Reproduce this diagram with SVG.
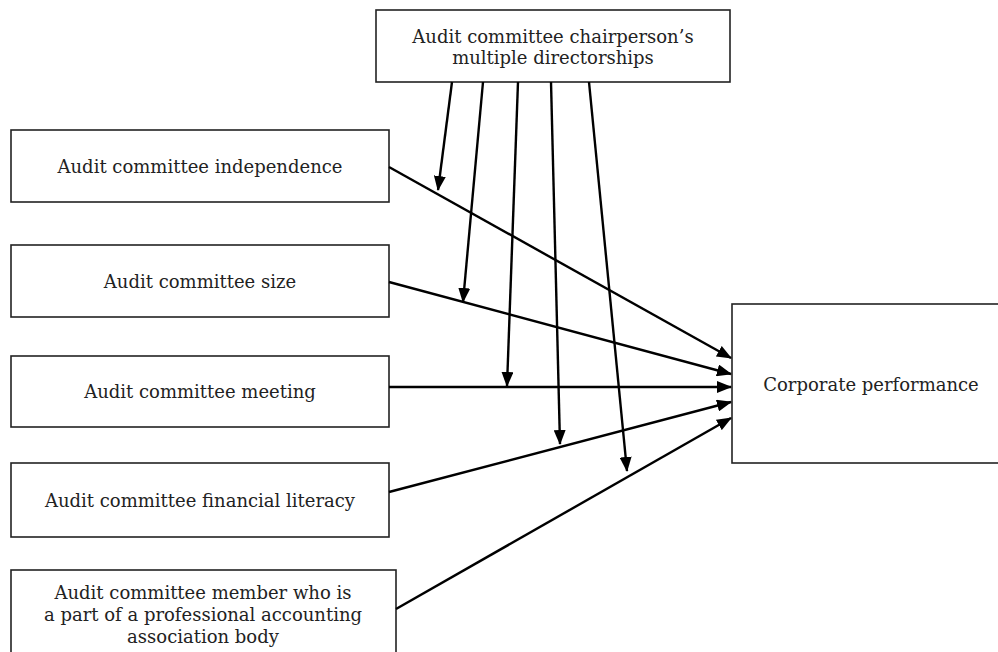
<svg xmlns="http://www.w3.org/2000/svg" width="998" height="652" viewBox="0 0 998 652">
<style>
.box{fill:#fff;stroke:#222;stroke-width:1.6}
.t{font-family:"DejaVu Serif",serif;font-size:18px;fill:#222;text-anchor:middle}
.c{stroke:#000;stroke-width:2.4;fill:none;marker-end:url(#ah)}
</style>
<defs>
<marker id="ah" markerUnits="userSpaceOnUse" markerWidth="15" markerHeight="12" refX="14" refY="6" orient="auto">
<path d="M0,0 L15,6 L0,12 z" fill="#000"/>
</marker>
</defs>
<rect width="998" height="652" fill="#fff"/>
<g id="n-chair"><rect class="box" x="376" y="10" width="354" height="72"/>
<text class="t" x="553" y="43">Audit committee chairperson’s</text>
<text class="t" x="553" y="64">multiple directorships</text></g>
<g id="n-indep"><rect class="box" x="11" y="130" width="378" height="72"/>
<text class="t" x="200" y="173">Audit committee independence</text></g>
<g id="n-size"><rect class="box" x="11" y="245" width="378" height="72"/>
<text class="t" x="200" y="288">Audit committee size</text></g>
<g id="n-meet"><rect class="box" x="11" y="356" width="378" height="71"/>
<text class="t" x="200" y="398">Audit committee meeting</text></g>
<g id="n-fin"><rect class="box" x="11" y="463" width="378" height="74"/>
<text class="t" x="200" y="507">Audit committee financial literacy</text></g>
<g id="n-prof"><rect class="box" x="11" y="570" width="385" height="90"/>
<text class="t" x="203" y="599">Audit committee member who is</text>
<text class="t" x="203" y="621">a part of a professional accounting</text>
<text class="t" x="203" y="643">association body</text></g>
<g id="n-perf"><rect class="box" x="732" y="304" width="270" height="159"/>
<text class="t" x="871" y="391">Corporate performance</text></g>
<g id="connectors">
<line class="c" x1="389" y1="167" x2="731" y2="358"/>
<line class="c" x1="389" y1="282" x2="731" y2="374"/>
<line class="c" x1="389" y1="387" x2="731" y2="387"/>
<line class="c" x1="389" y1="492" x2="731" y2="402"/>
<line class="c" x1="396" y1="609" x2="731" y2="418"/>
<line class="c" x1="452" y1="82" x2="438" y2="190"/>
<line class="c" x1="483" y1="82" x2="463" y2="302"/>
<line class="c" x1="518" y1="82" x2="507" y2="386"/>
<line class="c" x1="551" y1="82" x2="560" y2="444"/>
<line class="c" x1="589" y1="82" x2="627" y2="471"/>
</g>
</svg>
